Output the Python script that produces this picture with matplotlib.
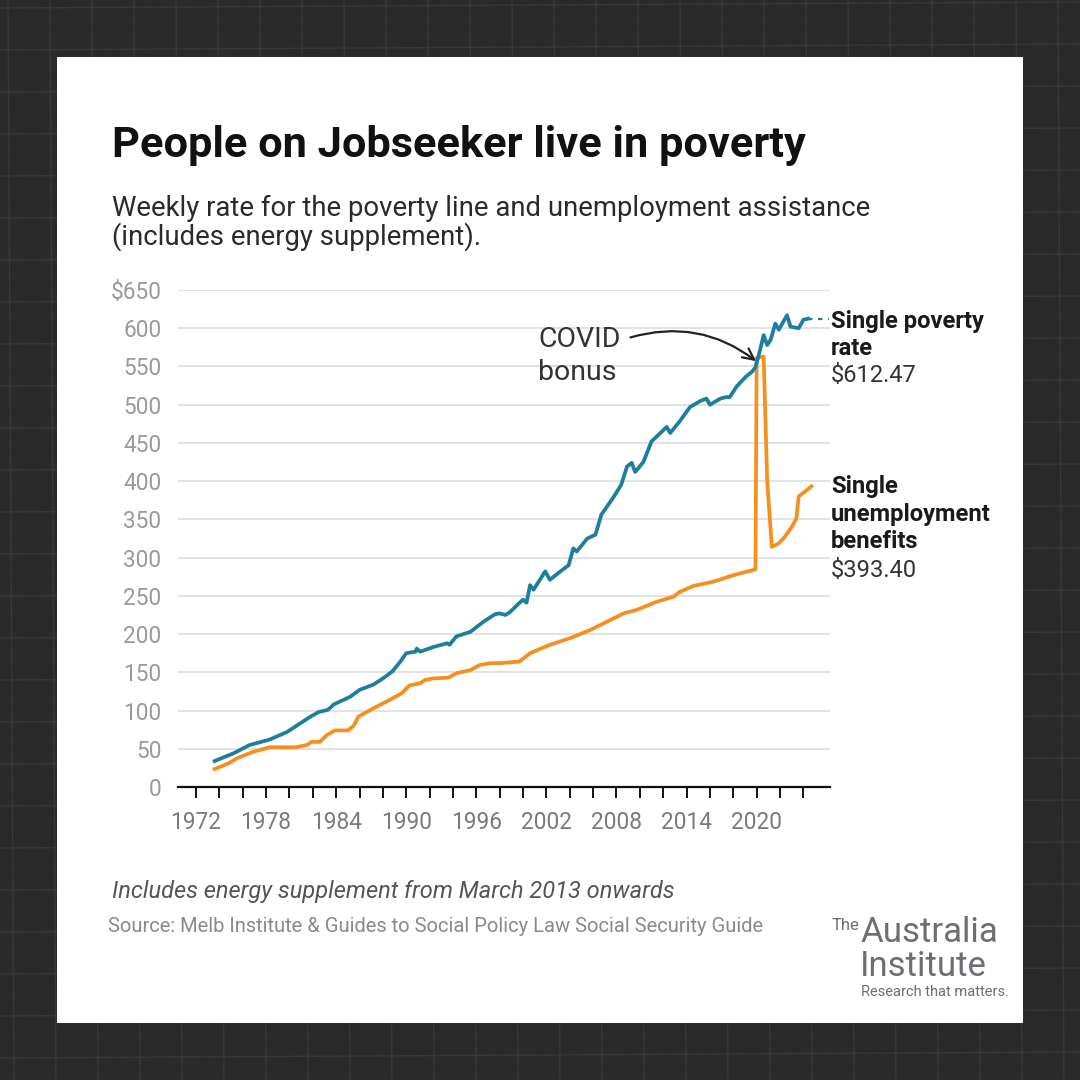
import matplotlib
matplotlib.use("Agg")
import matplotlib.pyplot as plt
import numpy as np

plt.rcParams['font.family'] = ['Roboto', 'DejaVu Sans']

# ---------------- data ----------------
poverty_years = [1973.6, 1975.2, 1976.6, 1978.3, 1979.8, 1981.8, 1982.5, 1983.3, 1983.8,
                 1985.2, 1986.0, 1987.2, 1988.0, 1988.8, 1989.5, 1990.0, 1990.8, 1990.9,
                 1991.2, 1992.3, 1993.5, 1993.7, 1994.3, 1995.5, 1996.6, 1997.6, 1998.0,
                 1998.5, 1998.9, 1999.5, 2000.0, 2000.3, 2000.6, 2000.9, 2001.9, 2002.3,
                 2003.2, 2003.9, 2004.3, 2004.6, 2005.5, 2006.2, 2006.7, 2007.7, 2008.4,
                 2008.9, 2009.3, 2009.6, 2010.3, 2011.0, 2011.9, 2012.3, 2012.6, 2013.4,
                 2014.3, 2015.2, 2015.7, 2016.0, 2016.9, 2017.4, 2017.7, 2018.3, 2019.1,
                 2019.6, 2019.9, 2020.3, 2020.6, 2020.9, 2021.2, 2021.6, 2021.9, 2022.3,
                 2022.6, 2022.9, 2023.6, 2024.0, 2024.4]
poverty_values = [34, 44, 55, 62, 72, 92, 98, 101, 108,
                  118, 127, 134, 142, 151, 164, 175, 177, 181,
                  177, 183, 188, 186, 197, 203, 216, 226, 227,
                  225, 229, 238, 245, 241, 264, 258, 282, 271,
                  282, 290, 312, 308, 325, 330, 356, 378, 395,
                  419, 424, 412, 425, 452, 465, 471, 463, 478,
                  497, 505, 508, 500, 508, 510, 510, 524, 537,
                  543, 549, 572, 591, 578, 585, 606, 598, 609,
                  617, 602, 600, 611, 612.47]

benefit_years = [1973.6, 1974.8, 1975.5, 1976.9, 1978.3, 1980.6, 1981.5, 1981.9, 1982.6,
                 1983.2, 1983.9, 1985.0, 1985.5, 1985.9, 1987.2, 1988.6, 1989.6, 1990.3,
                 1991.2, 1991.6, 1992.3, 1993.6, 1994.3, 1995.5, 1996.3, 1997.2, 1998.0,
                 1999.7, 2000.6, 2002.3, 2004.0, 2005.7, 2006.9, 2008.6, 2009.7, 2011.4,
                 2012.9, 2013.4, 2014.6, 2016.3, 2018.0, 2019.9, 2020.0, 2020.6, 2020.9,
                 2021.3, 2021.9, 2022.4, 2023.0, 2023.4, 2023.6, 2024.1, 2024.7]
benefit_values = [23.5, 31, 37.5, 46, 52, 52, 55, 59, 59,
                  68, 74, 74, 80, 92, 103, 114, 122.5, 133,
                  135.6, 140, 142, 143, 148.7, 153, 159.6, 162, 162,
                  164, 175, 186, 194.5, 205, 214, 227, 231.5, 242,
                  249, 255, 263, 268.5, 277, 284.7, 561, 563, 401.5,
                  314, 318.6, 327, 340, 351, 380, 386, 393.4]

y_ticks = [0, 50, 100, 150, 200, 250, 300, 350, 400, 450, 500, 550, 600, 650]
y_tick_labels = ['0', '50', '100', '150', '200', '250', '300', '350', '400', '450',
                 '500', '550', '600', '$650']
x_label_years = [1972, 1978, 1984, 1990, 1996, 2002, 2008, 2014, 2020]

title = "People on Jobseeker live in poverty"
subtitle_1 = "Weekly rate for the poverty line and unemployment assistance"
subtitle_2 = "(includes energy supplement)."
note = "Includes energy supplement from March 2013 onwards"
source = "Source: Melb Institute & Guides to Social Policy Law Social Security Guide"

BLUE = "#1d7e9f"
ORANGE = "#f5901e"

W = H = 1080
fig = plt.figure(figsize=(10.8, 10.8), dpi=100)
fig.patch.set_facecolor("#2a2a2a")

def fx(px):
    return px / W

def fy(py):
    return 1 - py / H

# dark background grid
bg = fig.add_axes([0, 0, 1, 1])
bg.set_xlim(0, W)
bg.set_ylim(H, 0)
bg.axis('off')
for g in np.arange(8, W, 42):
    bg.plot([g, g + 6], [0, H], color="#383838", lw=1.0)
    bg.plot([0, W], [g, g - 6], color="#383838", lw=1.0)
bg.add_patch(plt.Rectangle((57, 57), 966, 966, facecolor="white", edgecolor="none", zorder=5))

# main axes: x pixel 178..830, y pixel 290 (650) .. 787 (0)
ax_left, ax_right, ax_top, ax_bottom = 178, 830, 290, 787
ax = fig.add_axes([fx(ax_left), fy(ax_bottom), fx(ax_right - ax_left), (ax_bottom - ax_top) / H])
ax.set_facecolor("none")
px_per_year = 11.68
x0 = 1972 - (196 - ax_left) / px_per_year
x1 = 1972 + (ax_right - 196) / px_per_year
ax.set_xlim(x0, x1)
ax.set_ylim(0, 650)

for s in ['top', 'right', 'left']:
    ax.spines[s].set_visible(False)
ax.spines['bottom'].set_color('#111111')
ax.spines['bottom'].set_linewidth(1.6)
ax.spines['bottom'].set_zorder(6)

ax.set_yticks(y_ticks)
ax.set_yticklabels(y_tick_labels)
ax.tick_params(axis='y', length=0, pad=12, labelsize=16.3, labelcolor='#9a9a9a')
ax.yaxis.grid(True, color='#e2e2e2', lw=1.4)
ax.set_axisbelow(True)

all_ticks = np.arange(1972, 2025, 2)
ax.set_xticks(all_ticks)
ax.set_xticklabels([str(y) if y in x_label_years else '' for y in all_ticks])
ax.tick_params(axis='x', length=8, width=1.4, color='#111111', pad=9,
               labelsize=16.3, labelcolor='#7a7a7a')

ax.plot(poverty_years, poverty_values, color=BLUE, lw=2.7, solid_joinstyle='round', zorder=4)
ax.plot(benefit_years, benefit_values, color=ORANGE, lw=2.7, solid_joinstyle='round', zorder=3)
ax.plot([poverty_years[-1], x1 - 0.1], [poverty_values[-1], poverty_values[-1]],
        color=BLUE, lw=1.6, ls=(0, (2, 2.5)), zorder=4, clip_on=False)

# COVID annotation
ax.annotate("", xy=(2019.95, 557), xytext=(2009.2, 588),
            arrowprops=dict(arrowstyle='->', color='#222222', lw=1.6,
                            connectionstyle='arc3,rad=-0.25', mutation_scale=20,
                            shrinkA=0, shrinkB=0))
fig.text(fx(538), fy(347), "COVID", fontsize=20.5, color='#333333', va='baseline')
fig.text(fx(538), fy(380), "bonus", fontsize=20.5, color='#333333', va='baseline')

# Series labels
LBL = 17.1
fig.text(fx(831), fy(328), "Single poverty", fontsize=LBL, fontweight='bold', color='#1a1a1a', va='baseline')
fig.text(fx(831), fy(355), "rate", fontsize=LBL, fontweight='bold', color='#1a1a1a', va='baseline')
fig.text(fx(831), fy(382), "$612.47", fontsize=LBL, color='#333333', va='baseline')
fig.text(fx(831), fy(493), "Single", fontsize=LBL, fontweight='bold', color='#1a1a1a', va='baseline')
fig.text(fx(831), fy(521), "unemployment", fontsize=LBL, fontweight='bold', color='#1a1a1a', va='baseline')
fig.text(fx(831), fy(548), "benefits", fontsize=LBL, fontweight='bold', color='#1a1a1a', va='baseline')
fig.text(fx(831), fy(577), "$393.40", fontsize=LBL, color='#333333', va='baseline')

# Titles
fig.text(fx(112), fy(157), title, fontsize=31.2, fontweight='bold', color='#111111', va='baseline')
fig.text(fx(112), fy(216), subtitle_1, fontsize=19.8, color='#2a2a2a', va='baseline')
fig.text(fx(112), fy(245), subtitle_2, fontsize=19.8, color='#2a2a2a', va='baseline')

# Footer
fig.text(fx(112), fy(898), note, fontsize=17.0, style='italic', color='#555555', va='baseline')
fig.text(fx(108), fy(932), source, fontsize=14.5, color='#8a8a8a', va='baseline')

# Logo
LOGO = '#6d6e71'
fig.text(fx(832), fy(930), "The", fontsize=12, color=LOGO, va='baseline')
fig.text(fx(860), fy(942), "Australia", fontsize=25, color=LOGO, va='baseline')
fig.text(fx(860), fy(976), "Institute", fontsize=25, color=LOGO, va='baseline')
fig.text(fx(861), fy(996), "Research that matters.", fontsize=10.5, color=LOGO, va='baseline')

fig.savefig("out.png", dpi=100, facecolor=fig.get_facecolor())
